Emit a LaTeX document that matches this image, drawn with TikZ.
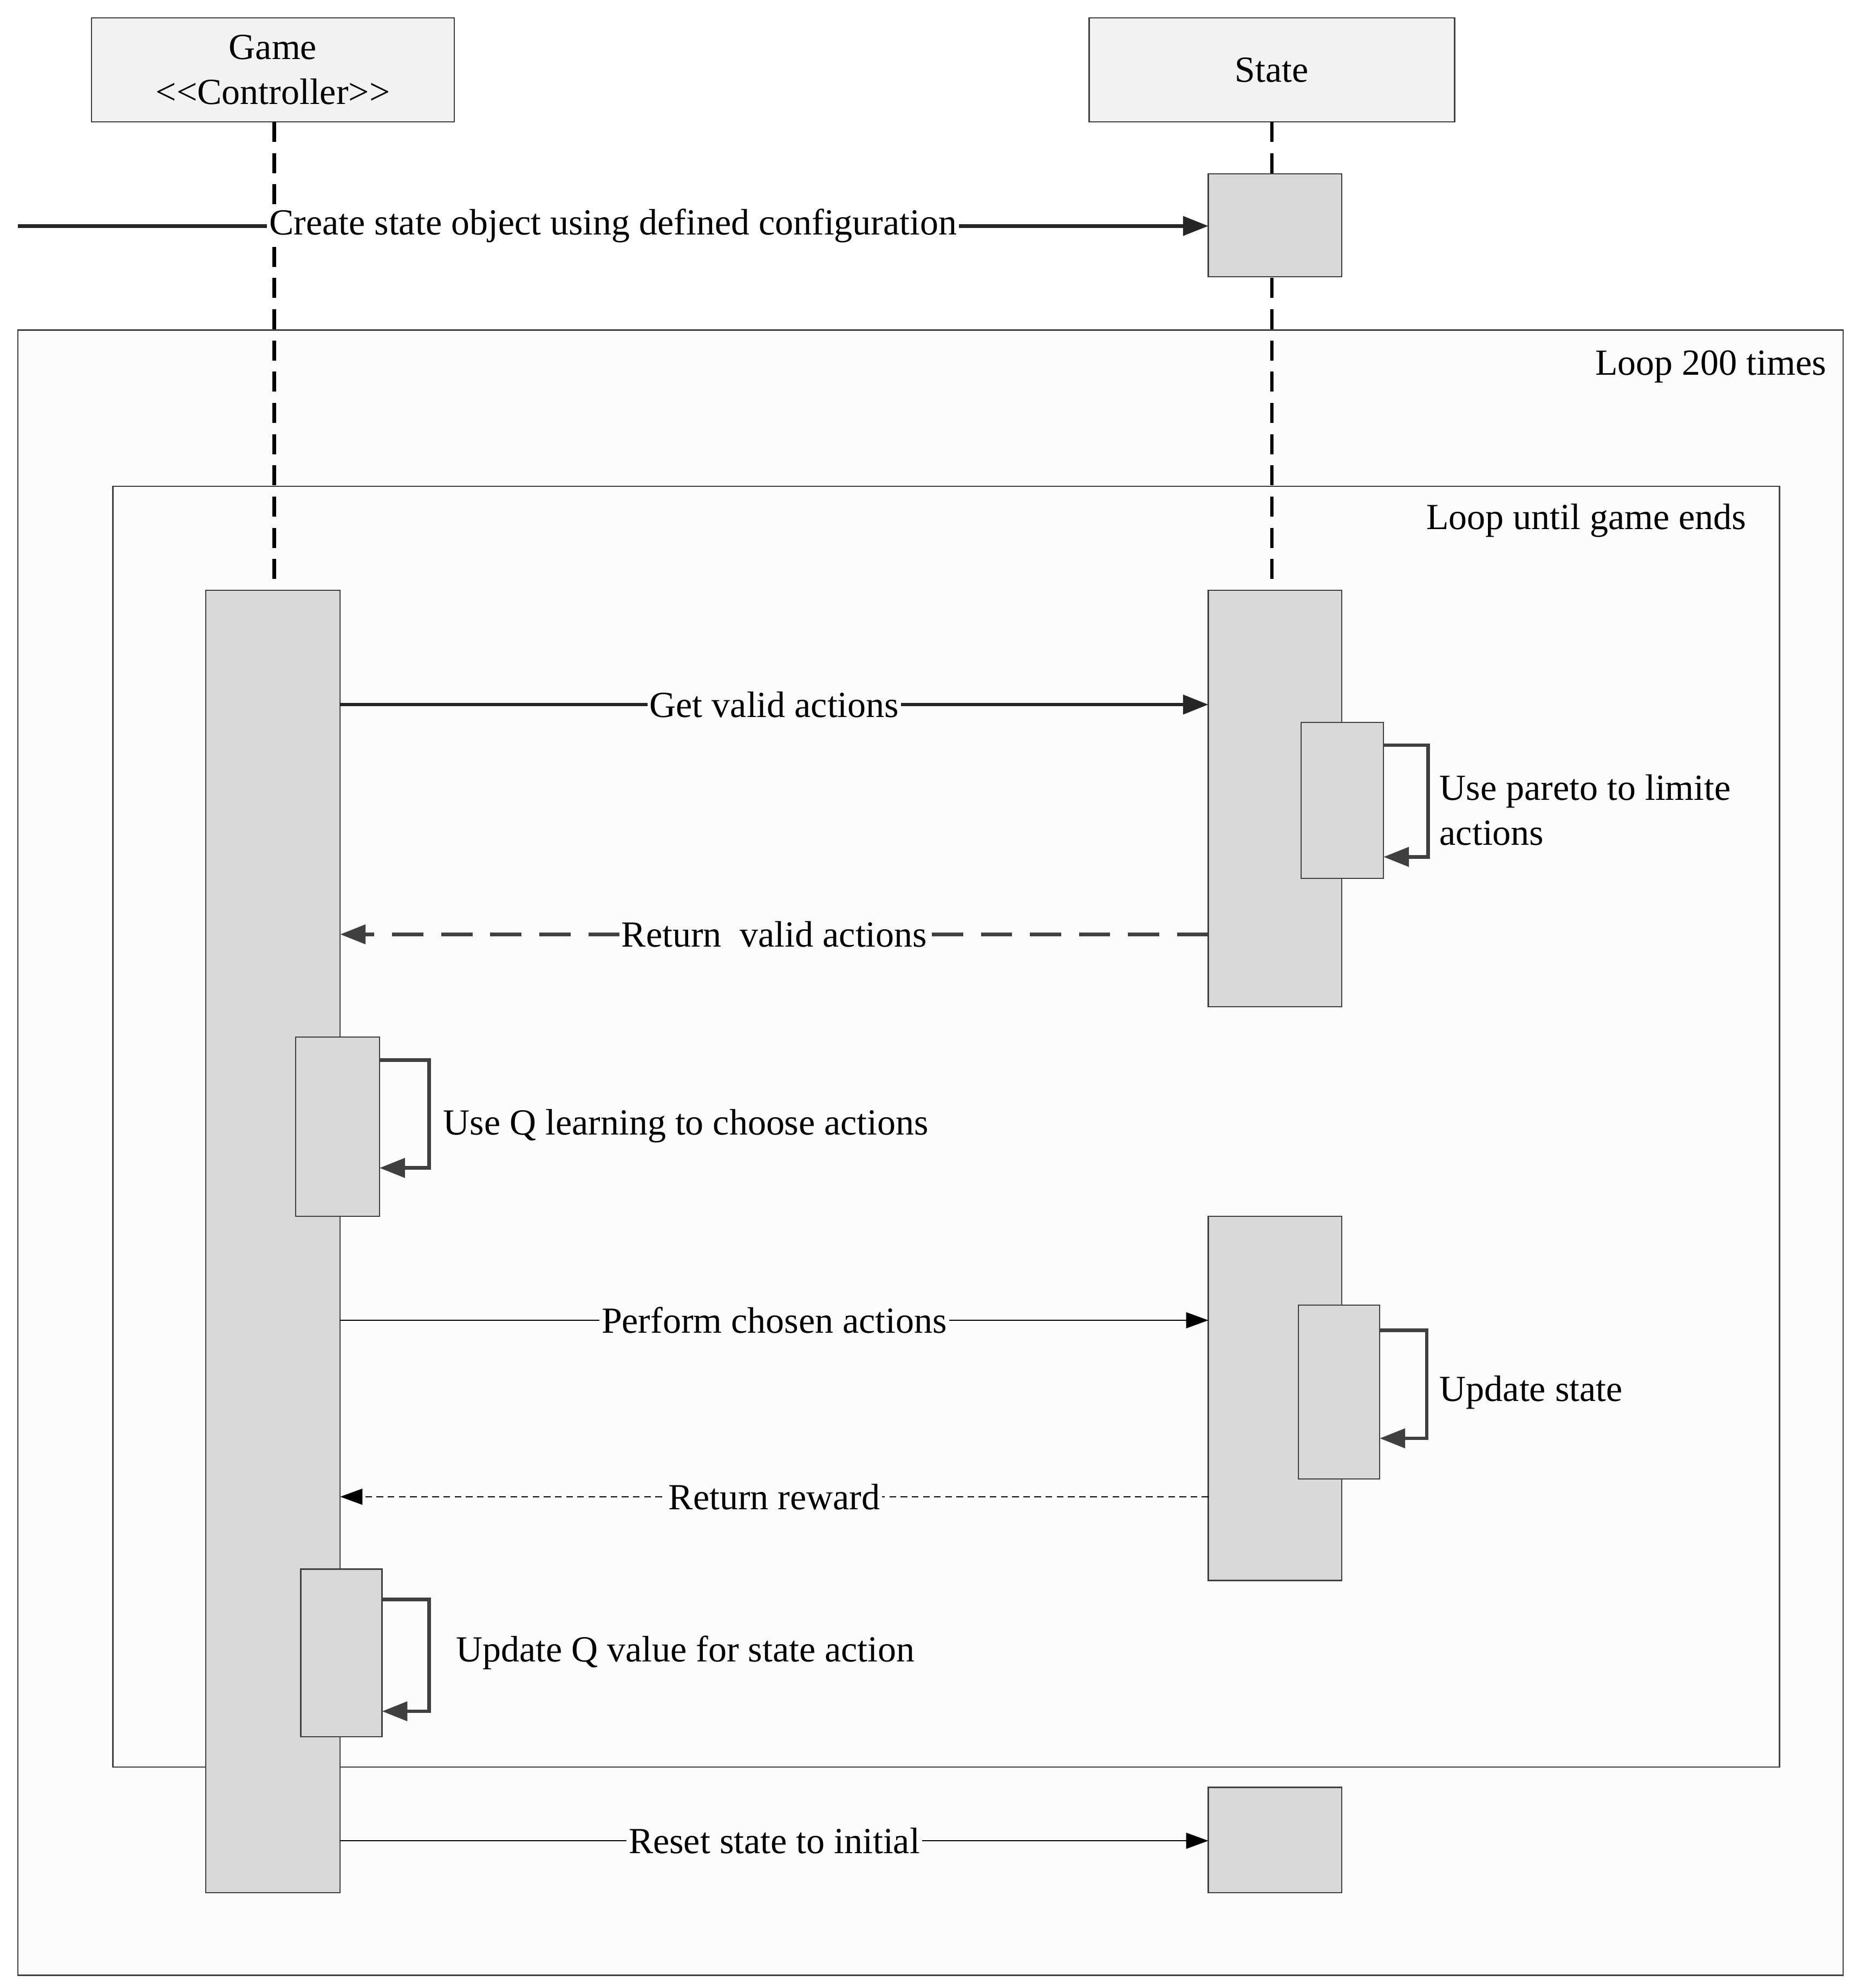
\documentclass[tikz,border=0pt]{standalone}
\usepackage{fontspec}
\setmainfont{Liberation Serif}
\usetikzlibrary{arrows.meta}
\definecolor{act}{HTML}{D9D9D9}
\definecolor{hdr}{HTML}{F2F2F2}
\definecolor{frm}{HTML}{FCFCFC}
\definecolor{dk}{HTML}{404040}
\begin{document}
\begin{tikzpicture}[x=0.02cm,y=-0.02cm,font=\fontsize{16.5}{20}\selectfont,
  box/.style={draw=dk,line width=0.6pt,fill=act},
  hd/.style={draw=dk,line width=0.6pt,fill=hdr},
  frame/.style={draw=dk,line width=0.6pt,fill=frm},
  life/.style={line width=1.6pt,dash pattern=on 9pt off 5pt},
  big/.style={-{Triangle[length=0.4cm,width=0.3cm]},line width=1.6pt,color=black!85},
  thin/.style={-{Triangle[length=0.35cm,width=0.25cm]},line width=0.6pt},
  self/.style={line width=1.6pt,color=dk,-{Triangle[length=0.4cm,width=0.3cm]}},
  lbl/.style={fill=frm,inner sep=1pt,text=black}]
\useasboundingbox (0,0) rectangle (1466,1566);
\fill[white] (0,0) rectangle (1466,1566);
% headers
\draw[hd] (72,14) rectangle (358,96);
\node[align=center] (g) at (215,55) {Game\\<{}<Controller>{}>};
\draw[hd] (858,14) rectangle (1146,96);
\node (s) at (1002,55) {State};
% frames
\draw[frame] (14,260) rectangle (1452,1556);
\node[anchor=east] (l1) at (1445,289) {Loop 200 times};
\draw[frame] (89,383) rectangle (1402,1392);
\node[anchor=east] (l2) at (1382,410) {Loop until game ends};
% lifelines
\coordinate (gt) at (216,96); \coordinate (gb) at (216,465);
\draw[life] (gt) -- (gb);
\coordinate (st) at (1002,96); \coordinate (sb) at (1002,465);
\draw[life] (st) -- (sb);
% activations
\draw[box] (952,137) rectangle (1057,218);
\draw[box] (162,465) rectangle (268,1491);
\draw[box] (952,465) rectangle (1057,793);
\draw[box] (952,958) rectangle (1057,1245);
\draw[box] (952,1408) rectangle (1057,1491);
% create
\coordinate (c0) at (14,178); \coordinate (c1) at (952,178);
\draw[big] (c0) -- node[fill=white,inner sep=1pt,text=black] {Create state object using defined configuration} (c1);
% get valid
\coordinate (a0) at (268,555); \coordinate (a1) at (952,555);
\draw[big] (a0) -- node[lbl] {Get valid actions} (a1);
\draw[box] (1025,569) rectangle (1090,692);
\draw[self] (1090,587) -- (1125,587) -- (1125,675) -- (1090,675);
\node[anchor=west,align=left] (p) at (1128,638) {Use pareto to limite\\actions};
% return valid
\coordinate (r0) at (952,736); \coordinate (r1) at (268,736);
\draw[big,dash pattern=on 14pt off 8pt,color=dk] (r0) -- node[lbl] {Return\ \ valid actions} (r1);
% Q learn
\draw[box] (233,817) rectangle (299,958);
\draw[self] (299,835) -- (338,835) -- (338,920) -- (299,920);
\node[anchor=west] (q) at (343,887) {Use Q learning to choose actions};
% perform
\coordinate (f0) at (268,1040); \coordinate (f1) at (952,1040);
\draw[thin] (f0) -- node[lbl] {Perform chosen actions} (f1);
\draw[box] (1023,1028) rectangle (1087,1165);
\draw[self] (1087,1048) -- (1124,1048) -- (1124,1133) -- (1087,1133);
\node[anchor=west] (u) at (1128,1097) {Update state};
% reward
\coordinate (w0) at (952,1179); \coordinate (w1) at (268,1179);
\draw[thin,dash pattern=on 3pt off 2pt] (w0) -- node[lbl] {Return reward} (w1);
% update Q
\draw[box] (237,1236) rectangle (301,1368);
\draw[self] (301,1260) -- (338,1260) -- (338,1348) -- (301,1348);
\node[anchor=west] (uq) at (353,1302) {Update Q value for state action};
% reset
\coordinate (x0) at (268,1450); \coordinate (x1) at (952,1450);
\draw[thin] (x0) -- node[lbl] {Reset state to initial} (x1);
\end{tikzpicture}
\end{document}
